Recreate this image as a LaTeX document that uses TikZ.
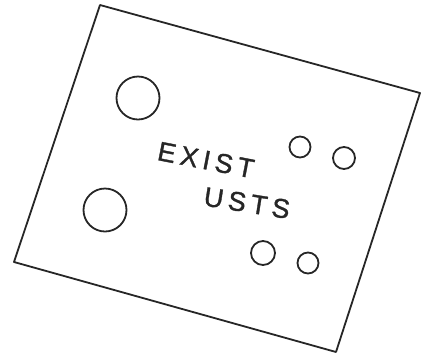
\documentclass[tikz,border=0pt]{standalone}
\usepackage{fontspec}
\usepackage{tikz}
\newfontfamily\sketchfont[LetterSpace=18,FakeBold=1.2]{Liberation Sans}

\begin{document}
\begin{tikzpicture}[x=1pt,y=-1pt]
  \tikzset{pen/.style={draw=black!85,line width=1.8pt},
    hole/.style={circle,pen,inner sep=0pt},
    word/.style={text=black!85,inner sep=0pt,font=\sketchfont\fontsize{27}{28}\selectfont}}
  \useasboundingbox (0,0) rectangle (423,360);
  \coordinate (tl) at (100,5);
  \coordinate (tr) at (420,93);
  \coordinate (br) at (336,352);
  \coordinate (bl) at (14,262);
  \draw[pen,line join=round] (tl) -- (tr) -- (br) -- (bl) -- cycle;
  \node[hole,minimum size=43pt] (h1) at (138,98) {};
  \node[hole,minimum size=43pt] (h2) at (105,210) {};
  \node[hole,minimum size=21pt] (h3) at (300,147) {};
  \node[hole,minimum size=22pt] (h4) at (344,158) {};
  \node[hole,minimum size=24pt] (h5) at (263,253) {};
  \node[hole,minimum size=21pt] (h6) at (308,263) {};
  \node[word,rotate=-11] (exist) at (206,160) {EXIST};
  \node[word,rotate=-9] (usts) at (247,203) {USTS};
\end{tikzpicture}
\end{document}
